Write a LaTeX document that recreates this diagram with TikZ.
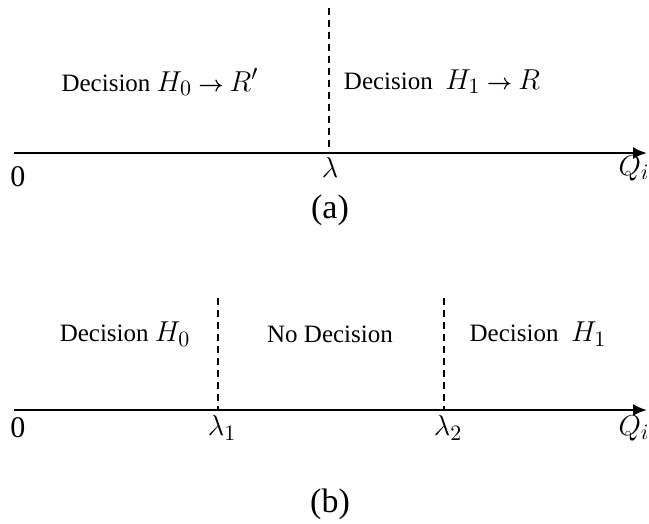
\documentclass[tikz,border=0pt]{standalone}
\usepackage{amsmath}
\usepackage{fontspec}
\setmainfont{Liberation Serif}
\usepackage{tikz}
\usetikzlibrary{arrows.meta}
\tikzset{
  axis/.style={line width=1.1pt, -{Latex[length=7pt,width=6pt]}},
  cut/.style={line width=0.8pt, dash pattern=on 3.5pt off 2.5pt},
  region/.style={inner sep=0pt, font=\fontsize{12.5}{14}\selectfont},
  tick/.style={inner sep=0pt, font=\fontsize{15}{18}\selectfont},
  caption/.style={inner sep=0pt, font=\fontsize{17}{20}\selectfont},
}
\newcommand{\mth}[1]{{\fontsize{15}{17}\selectfont$#1$}}
\newcommand{\goesto}{\ {\fontsize{11}{13}\selectfont$\boldsymbol{\rightarrow}$}\ }

\begin{document}
\begin{tikzpicture}[x=0.5pt, y=-0.5pt]
\useasboundingbox (0,0) rectangle (649,524);

%(a)
\coordinate (azero) at (14,153);
\coordinate (aend) at (647,153);
\coordinate (lamtop) at (329,8);
\coordinate (lam) at (329,153);
\draw[axis] (azero) -- (aend);
\draw[cut] (lamtop) -- (lam);

\node[region] (hzero) at (160,82) {Decision \mth{H_0}\goesto\mth{R'}};
\node[region] (hone) at (442,82) {Decision \ \mth{H_1}\goesto\mth{R}};
\node[tick] (origa) at (18,177) {0};
\node[tick] (lamlbl) at (330,168) {$\lambda$};
\node[tick] (qa) at (634,168) {$Q_i$};
\node[caption] (capa) at (330,210) {(a)};

%(b)
\coordinate (bzero) at (14,410);
\coordinate (bend) at (647,410);
\coordinate (lamonetop) at (218,298);
\coordinate (lamone) at (218,410);
\coordinate (lamtwotop) at (444,298);
\coordinate (lamtwo) at (444,410);
\draw[axis] (bzero) -- (bend);
\draw[cut] (lamonetop) -- (lamone);
\draw[cut] (lamtwotop) -- (lamtwo);

\node[region] (bhzero) at (125,334) {Decision \mth{H_0}};
\node[region] (nodec) at (330,334) {No Decision};
\node[region] (bhone) at (538,334) {Decision \ \mth{H_1}};
\node[tick] (origb) at (18,428) {0};
\node[tick] (lamonelbl) at (222,428) {$\lambda_1$};
\node[tick] (lamtwolbl) at (448,428) {$\lambda_2$};
\node[tick] (qb) at (634,428) {$Q_i$};
\node[caption] (capb) at (330,504) {(b)};
\end{tikzpicture}
\end{document}
